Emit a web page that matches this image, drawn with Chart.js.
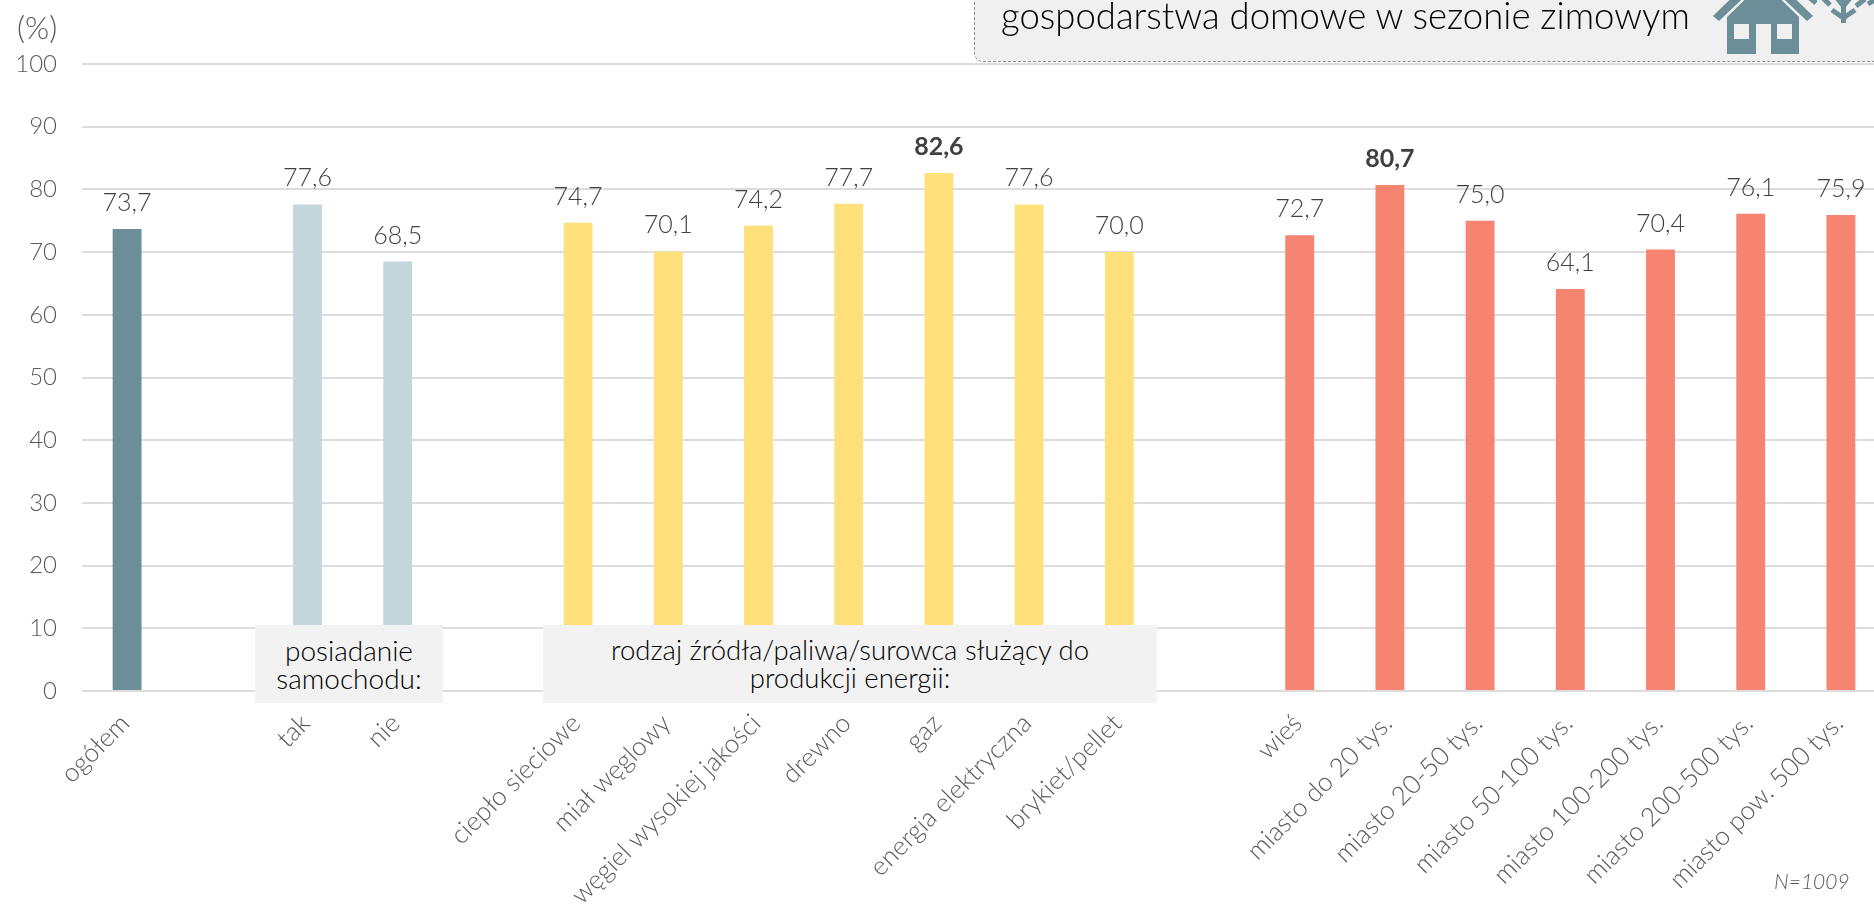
<!DOCTYPE html>
<html><head><meta charset="utf-8">
<style>
html,body{margin:0;padding:0;background:#fff;overflow:hidden;width:1874px;height:910px}
#wrap{position:absolute;left:0;top:0;width:1900px;height:910px}
.note{position:absolute;font-family:Lato,sans-serif;font-weight:300;color:#000;text-align:center}
</style>
<script src="https://cdn.jsdelivr.net/npm/chart.js@4/dist/chart.umd.min.js"></script>
</head><body>
<div id="wrap"><canvas id="c" width="1900" height="910"></canvas></div>
<div class="note" style="left:17px;top:8px;font-size:31px;color:#595959">(%)</div>
<div style="position:absolute;left:974px;top:-20px;width:960px;height:82px;background:#f0f0f0;border:1.5px dashed #8c8c8c;border-radius:9px;box-sizing:border-box"></div>
<div class="note" style="left:1001px;top:-5px;font-size:36.500px;line-height:40px;white-space:nowrap">gospodarstwa domowe w sezonie zimowym</div>
<svg style="position:absolute;left:1690px;top:0" width="184" height="61" viewBox="0 0 184 61">
<g fill="#6b8e99">
<path d="M37 54 V17 L73 -18 L109 17 V54 H81 V24 H66 V54 Z"/>
<path d="M23 16 L60 -20 L66 -14 L29 21 Z"/>
<path d="M123 16 L86 -20 L80 -14 L117 21 Z"/>
</g>
<rect x="44" y="24" width="15" height="15" fill="#f0f0f0"/><rect x="87" y="24" width="15" height="15" fill="#f0f0f0"/>
<g stroke="#6b8e99" stroke-width="5" fill="none"><path d="M153.500 23 V-5 M142 10 L153.500 18 L165 10 M147 -2 L153.500 6 L160 -2 M120 -2 L126 3 M133 -2 L140 5 M166 6 L175 -1 M178 4 L186 -1"/></g>
</svg>
<div class="note" style="left:255px;top:625px;width:188px;height:78px;background:#f2f2f2;font-size:28px;line-height:28px;padding-top:11px;box-sizing:border-box">posiadanie<br>samochodu:</div>
<div class="note" style="left:543px;top:625px;width:614px;height:78px;background:#f2f2f2;font-size:27.500px;line-height:28px;padding-top:11px;box-sizing:border-box">rodzaj źródła/paliwa/surowca służący do<br>produkcji energii:</div>
<div class="note" style="left:1774px;top:868px;font-size:21px;font-style:italic;color:#595959">N=1009</div>
<script>
const categories = ['ogółem','','tak','nie','','ciepło sieciowe','miał węglowy','węgiel wysokiej jakości','drewno','gaz','energia elektryczna','brykiet/pellet','','wieś','miasto do 20 tys.','miasto 20-50 tys.','miasto 50-100 tys.','miasto 100-200 tys.','miasto 200-500 tys.','miasto pow. 500 tys.'];
const values = [73.7,null,77.6,68.5,null,74.7,70.1,74.2,77.7,82.6,77.6,70.0,null,72.7,80.7,75.0,64.1,70.4,76.1,75.9];
const barColors = ['#6b8e99','#fff','#c3d6dc','#c3d6dc','#fff','#ffe07a','#ffe07a','#ffe07a','#ffe07a','#ffe07a','#ffe07a','#ffe07a','#fff','#f58571','#f58571','#f58571','#f58571','#f58571','#f58571','#f58571'];
const boldValues = [82.6,80.7];
const yTicks = [0,10,20,30,40,50,60,70,80,90,100];
const FONT = 'Lato, sans-serif';
const valueLabels = {
  id:'valueLabels',
  afterDatasetsDraw(chart){
    const ctx = chart.ctx, meta = chart.getDatasetMeta(0);
    ctx.save();
    ctx.textAlign='center'; ctx.textBaseline='alphabetic'; ctx.fillStyle='#404040';
    meta.data.forEach((bar,i)=>{
      const v = values[i]; if(v==null) return;
      const bold = boldValues.includes(v);
      ctx.font = (bold?'700 ':'300 ')+'25px '+FONT;
      ctx.fillText(v.toFixed(1).replace('.',','), bar.x, bar.y-18);
    });
    ctx.restore();
  }
};
new Chart(document.getElementById('c'),{
  type:'bar',
  data:{labels:categories,datasets:[{data:values,backgroundColor:barColors,barPercentage:0.32,categoryPercentage:1}]},
  options:{
    responsive:false,animation:false,
    layout:{padding:{left:0,right:14,top:64,bottom:0}},
    plugins:{legend:{display:false},tooltip:{enabled:false}},
    scales:{
      x:{grid:{display:false},border:{display:false},
        afterFit(s){s.height=219;},
        ticks:{autoSkip:false,minRotation:45,maxRotation:45,padding:9,labelOffset:-2,color:'#595959',font:{family:FONT,size:26,weight:'300'}}},
      y:{min:0,max:100,grid:{color:'#dcdcdc',lineWidth:2,drawTicks:false},border:{display:false},
        afterFit(s){s.width=82;},
        afterBuildTicks(s){s.ticks=yTicks.map(v=>({value:v}));},
        ticks:{padding:25,color:'#595959',font:{family:FONT,size:24,weight:'300'}}}
    }
  },
  plugins:[valueLabels]
});
</script>
</body></html>
